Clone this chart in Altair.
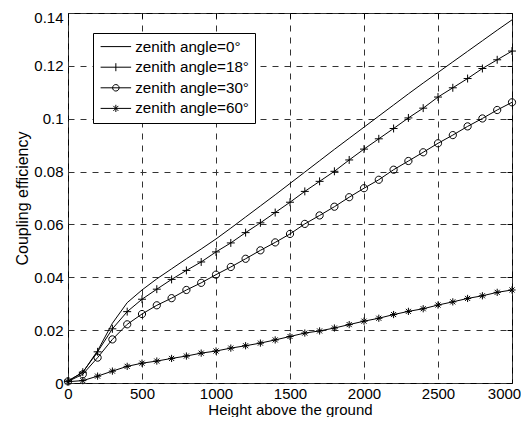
import altair as alt
import pandas as pd

heights = [0, 100, 200, 300, 400, 500, 600, 700, 800, 900, 1000,
           1100, 1200, 1300, 1400, 1500, 1600, 1700, 1800, 1900, 2000,
           2100, 2200, 2300, 2400, 2500, 2600, 2700, 2800, 2900, 3000]

eff_0 = [0.0008, 0.0040, 0.0122, 0.0226, 0.0304, 0.0352, 0.0394, 0.0432, 0.0470, 0.0507, 0.0545,
         0.0586, 0.0628, 0.0670, 0.0712, 0.0755, 0.0798, 0.0841, 0.0884, 0.0926, 0.0968,
         0.1010, 0.1052, 0.1094, 0.1135, 0.1175, 0.1215, 0.1255, 0.1295, 0.1335, 0.1374]

eff_18 = [0.0007, 0.0041, 0.0118, 0.0205, 0.0270, 0.0317, 0.0355, 0.0392, 0.0426, 0.0458, 0.0496,
          0.0530, 0.0569, 0.0606, 0.0645, 0.0684, 0.0725, 0.0763, 0.0801, 0.0844, 0.0885,
          0.0924, 0.0963, 0.1003, 0.1040, 0.1082, 0.1117, 0.1152, 0.1190, 0.1223, 0.1256]

eff_30 = [0.0006, 0.0033, 0.0096, 0.0165, 0.0222, 0.0261, 0.0294, 0.0321, 0.0352, 0.0379, 0.0410,
          0.0439, 0.0470, 0.0502, 0.0532, 0.0564, 0.0602, 0.0634, 0.0667, 0.0703, 0.0737,
          0.0769, 0.0807, 0.0840, 0.0873, 0.0907, 0.0938, 0.0971, 0.1001, 0.1033, 0.1062]

eff_60 = [0.0005, 0.0009, 0.0026, 0.0045, 0.0063, 0.0075, 0.0083, 0.0093, 0.0102, 0.0113, 0.0121,
          0.0132, 0.0141, 0.0151, 0.0163, 0.0176, 0.0189, 0.0197, 0.0208, 0.0221, 0.0234,
          0.0245, 0.0259, 0.0271, 0.0281, 0.0295, 0.0307, 0.0320, 0.0330, 0.0343, 0.0352]

series_names = ["zenith angle=0°", "zenith angle=18°", "zenith angle=30°", "zenith angle=60°"]

x_ticks = [0, 500, 1000, 1500, 2000, 2500, 3000]
y_ticks = [0, 0.02, 0.04, 0.06, 0.08, 0.1, 0.12, 0.14]

rows = []
for name, vals in zip(series_names, [eff_0, eff_18, eff_30, eff_60]):
    for h, v in zip(heights, vals):
        rows.append({"height": h, "eff": v, "series": name})
df = pd.DataFrame(rows)

# marker symbols (MATLAB '+', 'o', '*')
marker_paths = [
    "M-1.1,0H1.1M0,-1.1V1.1",
    "M1,0A1,1 0 1,1 -1,0A1,1 0 1,1 1,0",
    "M-1,0H1M0,-1V1M-0.7,-0.7L0.7,0.7M-0.7,0.7L0.7,-0.7",
]
# legend symbols: line segment plus marker
legend_paths = [
    "M-1.2,0H4.9",
    "M-1.2,0H4.9M1.85,-0.8V0.8",
    "M-1.2,0H4.9M2.5,0A0.65,0.65 0 1,1 1.2,0A0.65,0.65 0 1,1 2.5,0",
    "M-1.2,0H4.9M1.85,-0.72V0.72M1.35,-0.5L2.35,0.5M1.35,0.5L2.35,-0.5",
]

FONT = "Liberation Sans"

x_axis_main = alt.Axis(values=x_ticks, title="Height above the ground", grid=True,
                       gridDash=[6, 6], gridColor="#333333", gridWidth=1, gridOpacity=1,
                       tickSize=0, domain=False, labelPadding=3.5, titlePadding=0.5,
                       format="d",
                       labelOffset={"condition": {"test": "datum.value >= 3000", "value": -8},
                                    "value": 0},
                       labelFontSize=15, titleFontSize=15, labelFlush=False)
y_axis_main = alt.Axis(values=y_ticks, title="Coupling efficiency", grid=True,
                       gridDash=[6, 6], gridColor="#333333", gridWidth=1, gridOpacity=1,
                       tickSize=0, domain=False, labelPadding=5, titlePadding=3,
                       format=".2~f",
                       labelOffset={"condition": {"test": "datum.value >= 0.139", "value": 4},
                                    "value": 0},
                       labelFontSize=15, titleFontSize=16)
x_axis_top = alt.Axis(values=x_ticks, orient="top", labels=False, title=None, grid=False,
                      domain=False, ticks=True, tickSize=5, offset=-5, tickColor="black")
y_axis_right = alt.Axis(values=y_ticks, orient="right", labels=False, title=None, grid=False,
                        domain=False, ticks=True, tickSize=5, offset=-5, tickColor="black")

x_scale = alt.Scale(domain=[0, 3000], nice=False, zero=False)
y_scale = alt.Scale(domain=[0, 0.14], nice=False, zero=False)

lines = alt.Chart(df).mark_line(color="black", strokeWidth=1).encode(
    x=alt.X("height:Q", scale=x_scale, axis=x_axis_main),
    y=alt.Y("eff:Q", scale=y_scale, axis=y_axis_main),
    detail="series:N",
)

points = alt.Chart(df).transform_filter(
    alt.datum.series != series_names[0]
).mark_point(filled=False, color="black", strokeWidth=1, size=52, opacity=1).encode(
    x=alt.X("height:Q", scale=x_scale, axis=x_axis_top),
    y=alt.Y("eff:Q", scale=y_scale, axis=y_axis_right),
    shape=alt.Shape("series:N", scale=alt.Scale(domain=series_names[1:], range=marker_paths),
                    legend=None),
)

legend_layer = alt.Chart(df).transform_filter("false").mark_point(
    filled=False, color="black", strokeWidth=1, size=100, opacity=1
).encode(
    x=alt.X("height:Q", scale=x_scale, axis=None),
    y=alt.Y("eff:Q", scale=y_scale, axis=None),
    shape=alt.Shape(
        "series:N",
        scale=alt.Scale(domain=series_names, range=legend_paths),
        legend=alt.Legend(
            orient="none", legendX=25, legendY=20, title=None,
            symbolSize=100, symbolStrokeWidth=1, symbolStrokeColor="black",
            symbolFillColor="transparent",
            labelFontSize=15.2, labelColor="black", labelOffset=21,
            rowPadding=4.6, padding=6, strokeColor="black", fillColor="white",
        ),
    ),
)

chart = alt.layer(lines, points, legend_layer).resolve_scale(
    shape="independent"
).resolve_axis(
    x="independent", y="independent"
).properties(
    width=444, height=370,
    padding={"left": 60, "top": 5, "right": 9, "bottom": 34},
    autosize=alt.AutoSizeParams(type="none"),
).configure(
    font=FONT,
).configure_view(
    stroke="black", strokeWidth=1,
).configure_axis(
    labelColor="black", titleColor="black", titleFontWeight="normal",
    labelFont=FONT, titleFont=FONT,
).configure_legend(
    labelFont=FONT,
)

chart.save("out.html", embed_options={"renderer": "svg", "actions": False})
